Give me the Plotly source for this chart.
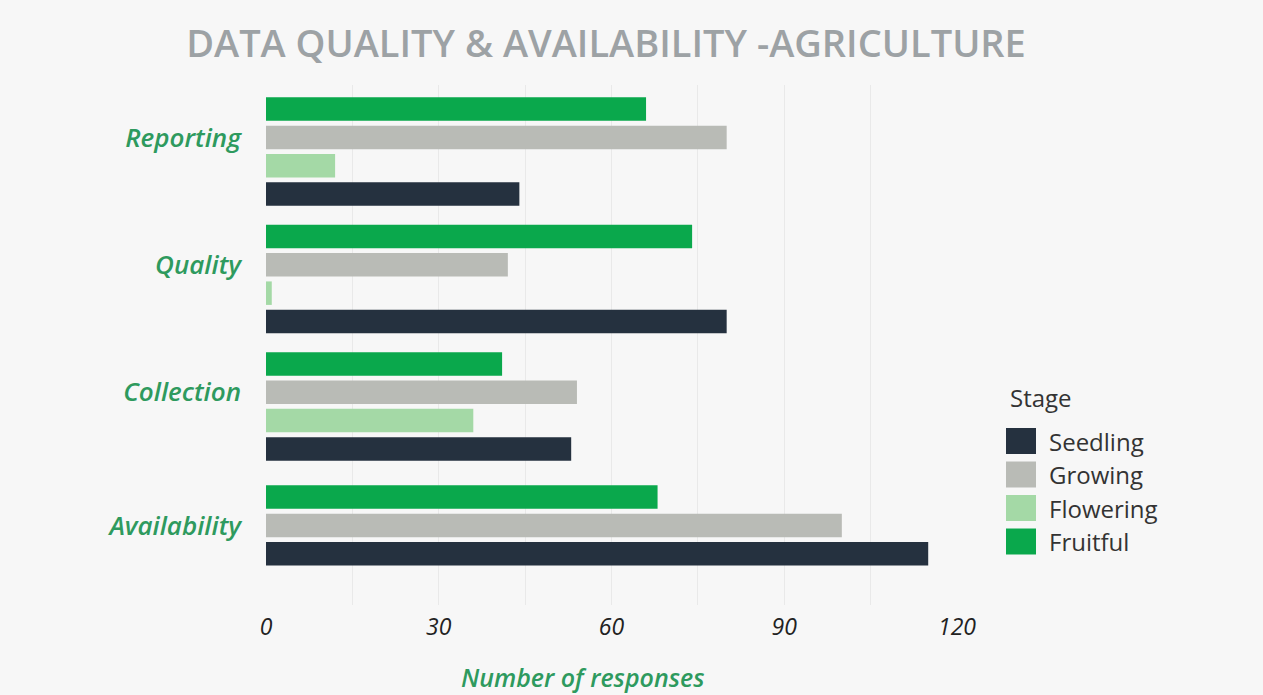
import plotly.graph_objects as go

# Survey results: number of responses per topic and crop stage
categories = ["Reporting", "Quality", "Collection", "Availability"]
stages = ["Seedling", "Growing", "Flowering", "Fruitful"]
seedling = [44, 80, 53, 115]
growing = [80, 42, 54, 100]
flowering = [12, 1, 36, None]
fruitful = [66, 74, 41, 68]

values = {"Seedling": seedling, "Growing": growing,
          "Flowering": flowering, "Fruitful": fruitful}
colors = {"Seedling": "#25313f", "Growing": "#b9bbb6",
          "Flowering": "#a4d9a6", "Fruitful": "#0aa84c"}

# Bars are stacked top-to-bottom inside each topic in this order;
# missing stages collapse so the remaining bars stay adjacent.
draw_order = ["Fruitful", "Growing", "Flowering", "Seedling"]
extra_gap = [0, 0.5, 0.5, 0.7]

slot = {}
group_start = []
cursor = 0.0
for gi, cat in enumerate(categories):
    cursor += extra_gap[gi]
    group_start.append(cursor)
    for st in draw_order:
        if values[st][gi] is not None:
            slot[(cat, st)] = cursor
            cursor += 1

BG = "#f7f7f7"
GREEN_TXT = "#2e9a5e"
FONT = "Open Sans"

fig = go.Figure()
for st in stages:
    ys, xs = [], []
    for gi, cat in enumerate(categories):
        v = values[st][gi]
        if v is None:
            continue
        ys.append(slot[(cat, st)])
        xs.append(v)
    fig.add_trace(go.Bar(
        x=xs, y=ys, orientation="h", width=0.83, name=st,
        marker=dict(color=colors[st], line=dict(width=0)),
        showlegend=False,
        hovertemplate=st + ": %{x}<extra></extra>",
    ))

# Plot area geometry (pixels) used for the custom legend placement
W, H = 1263, 695
L, R, T, B = 266, 306, 85, 90
PW, PH = W - L - R, H - T - B


def px_x(x):
    return (x - L) / PW


def px_y(y):
    return (H - B - y) / PH


shapes, annotations = [], []

# Legend: title plus large colour swatches
annotations.append(dict(
    text="Stage", xref="paper", yref="paper", x=px_x(1008), y=px_y(397),
    xanchor="left", yanchor="middle", showarrow=False,
    font=dict(family=FONT, size=24, color="#333333")))
for i, st in enumerate(stages):
    top = 428 + i * 33.5
    shapes.append(dict(
        type="rect", xref="paper", yref="paper",
        x0=px_x(1006), x1=px_x(1036), y0=px_y(top), y1=px_y(top + 26),
        fillcolor=colors[st], line=dict(width=0)))
    annotations.append(dict(
        text=st, xref="paper", yref="paper", x=px_x(1047), y=px_y(top + 13),
        xanchor="left", yanchor="middle", showarrow=False,
        font=dict(family=FONT, size=24, color="#333333")))

# Axis title
annotations.append(dict(
    text="Number of responses", xref="paper", yref="paper",
    x=px_x(582), y=px_y(677), xanchor="center", yanchor="middle",
    showarrow=False,
    font=dict(family=FONT, size=25, color=GREEN_TXT,
              style="italic", weight=600)))

fig.update_layout(
    width=W, height=H,
    margin=dict(l=L, r=R, t=T, b=B, pad=0),
    paper_bgcolor=BG, plot_bgcolor=BG,
    barmode="overlay",
    title=dict(
        text="DATA QUALITY & AVAILABILITY -AGRICULTURE",
        x=606 / W, xanchor="center", y=1 - 44 / H, yanchor="middle",
        font=dict(family=FONT, size=38, color="#9da2a5", weight=600)),
    shapes=shapes, annotations=annotations,
    xaxis=dict(
        range=[0, 120], tick0=0, dtick=30,
        showgrid=True, gridcolor="#e9e9e9", gridwidth=1,
        minor=dict(dtick=15, showgrid=True, gridcolor="#e9e9e9", gridwidth=1),
        zeroline=False, showline=False, ticks="",
        ticklabelstandoff=6,
        tickfont=dict(family=FONT, size=23, color="#222222",
                      style="italic"),
    ),
    yaxis=dict(
        range=[17.51, -0.85],
        tickmode="array",
        tickvals=[s + 1 for s in group_start],
        ticktext=categories,
        showgrid=False, zeroline=False, showline=False, ticks="",
        ticklabelstandoff=24,
        tickfont=dict(family=FONT, size=26, color=GREEN_TXT,
                      style="italic", weight=600),
    ),
)

fig.write_html("out.html")
